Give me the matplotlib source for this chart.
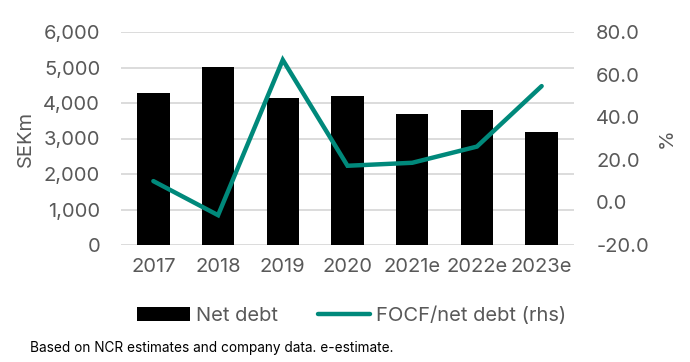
import numpy as np
import matplotlib.pyplot as plt

plt.rcParams['font.family'] = ['Inter', 'DejaVu Sans']

years = ['2017', '2018', '2019', '2020', '2021e', '2022e', '2023e']
net_debt = [4290, 5020, 4130, 4200, 3690, 3810, 3190]   # SEKm
focf_nd = [10.0, -6.0, 66.9, 17.2, 18.6, 26.2, 54.6]    # %

gris = '#595959'
teal = '#00897B'
fs = 14.5

fig = plt.figure(figsize=(6.9, 3.62), dpi=100)
ax1 = fig.add_axes([121/690, 1-245/362, 453/690, 213/362])
ax2 = ax1.twinx()

x = np.arange(len(years))
ax1.bar(x, net_debt, width=0.5, color='black', label='Net debt', zorder=2)
ax2.plot(x, focf_nd, color=teal, lw=3.2, solid_capstyle='round',
         solid_joinstyle='miter', label='FOCF/net debt (rhs)', zorder=3)

ax1.set_xlim(-0.5, 6.5)
ax1.set_ylim(0, 6000)
ax1.set_yticks(np.arange(0, 6001, 1000))
ax1.set_yticklabels([f'{v:,}' for v in range(0, 6001, 1000)])
ax2.set_ylim(-20, 80)
ax2.set_yticks(np.arange(-20, 81, 20))
ax2.set_yticklabels([f'{v:.1f}' for v in range(-20, 81, 20)])
ax1.set_xticks(x)
ax1.set_xticklabels(years)

ax1.yaxis.grid(True, color='#d9d9d9', lw=1.3, zorder=0)
ax1.set_axisbelow(True)
for a in (ax1, ax2):
    for s in a.spines.values():
        s.set_visible(False)
    a.tick_params(length=0, labelsize=fs, labelcolor=gris)
ax1.tick_params(axis='y', pad=15)
ax2.tick_params(axis='y', pad=16)
ax1.tick_params(axis='x', pad=9)

ax1.set_ylabel('SEKm', fontsize=fs, color=gris, labelpad=6)
ax2.set_ylabel('%', fontsize=fs, color=gris, labelpad=6)

h1, l1 = ax1.get_legend_handles_labels()
h2, l2 = ax2.get_legend_handles_labels()
fig.legend(h1 + h2, l1 + l2, loc='center', bbox_to_anchor=(352/690, 1-316/362),
           ncols=2, frameon=False, fontsize=fs, labelcolor=gris,
           handlelength=2.6, handletextpad=0.3, columnspacing=2.0)

fig.text(30/690, 1-348/362, 'Based on NCR estimates and company data. e-estimate.',
         fontsize=9.8, color='black', va='center')

fig.savefig('out.png', dpi=100)
